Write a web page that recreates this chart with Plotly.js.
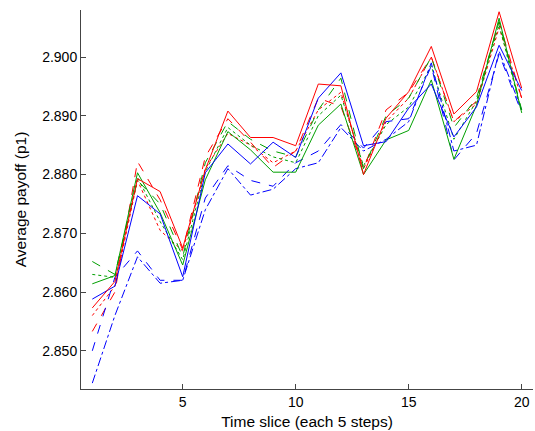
<!DOCTYPE html>
<html><head><meta charset="utf-8">
<script src="https://cdn.plot.ly/plotly-3.0.1.min.js"></script>
<style>html,body{margin:0;padding:0;background:#fff}#c{width:535px;height:431px}</style>
</head><body><div id="c"></div>
<script>
const timeSlices = [1,2,3,4,5,6,7,8,9,10,11,12,13,14,15,16,17,18,19,20];
const redSolid   = [2.8573,2.8618,2.8793,2.8771,2.8675,2.8808,2.8908,2.8863,2.8863,2.8849,2.8954,2.8951,2.8800,2.8896,2.8941,2.9018,2.8903,2.8941,2.9077,2.8947];
const redDashed  = [2.8533,2.8600,2.8822,2.8757,2.8672,2.8830,2.8895,2.8855,2.8812,2.8840,2.8930,2.8916,2.8810,2.8910,2.8940,2.9000,2.8890,2.8925,2.9060,2.8930];
const redDotted  = [2.8560,2.8610,2.8790,2.8705,2.8670,2.8810,2.8870,2.8850,2.8820,2.8840,2.8910,2.8940,2.8810,2.8890,2.8930,2.9000,2.8890,2.8920,2.9050,2.8930];
const greenSolid = [2.8614,2.8628,2.8803,2.8735,2.8646,2.8791,2.8873,2.8842,2.8804,2.8804,2.8884,2.8920,2.8800,2.8859,2.8875,2.8961,2.8826,2.8918,2.9066,2.8905];
const greenDashed= [2.8652,2.8630,2.8790,2.8750,2.8660,2.8820,2.8890,2.8860,2.8840,2.8830,2.8910,2.8964,2.8810,2.8900,2.8930,2.9000,2.8880,2.8930,2.9060,2.8910];
const greenDotted= [2.8630,2.8625,2.8795,2.8720,2.8655,2.8805,2.8880,2.8850,2.8830,2.8820,2.8900,2.8935,2.8815,2.8885,2.8915,2.8985,2.8860,2.8925,2.9055,2.8905];
const blueSolid  = [2.8588,2.8610,2.8764,2.8733,2.8626,2.8803,2.8852,2.8818,2.8855,2.8829,2.8930,2.8973,2.8849,2.8856,2.8913,2.8954,2.8864,2.8915,2.9020,2.8943];
const blueDashed = [2.8500,2.8625,2.8670,2.8620,2.8620,2.8760,2.8815,2.8790,2.8780,2.8820,2.8840,2.8885,2.8845,2.8890,2.8895,2.8985,2.8825,2.8870,2.9005,2.8905];
const blueDashDot= [2.8445,2.8560,2.8660,2.8615,2.8620,2.8740,2.8810,2.8765,2.8775,2.8810,2.8820,2.8880,2.8840,2.8860,2.8890,2.8990,2.8840,2.8850,2.9010,2.8910];

const series = [
  {y: redDotted,   c: '#ff0000', d: 'dot'},
  {y: greenDotted, c: '#00a000', d: 'dot'},
  {y: blueDashDot, c: '#0000ff', d: 'dashdot'},
  {y: redDashed,   c: '#ff0000', d: 'dash'},
  {y: greenDashed, c: '#00a000', d: 'dash'},
  {y: blueDashed,  c: '#0000ff', d: 'dash'},
  {y: greenSolid,  c: '#00a000', d: 'solid'},
  {y: blueSolid,   c: '#0000ff', d: 'solid'},
  {y: redSolid,    c: '#ff0000', d: 'solid'}
];
const traces = series.map(s => ({
  x: timeSlices, y: s.y, type: 'scatter', mode: 'lines',
  line: {color: s.c, width: 1, dash: s.d}, hoverinfo: 'skip'
}));
const font = {family: 'Liberation Sans, Arial, sans-serif', size: 14, color: '#000'};
const tfont = {family: 'Liberation Sans, Arial, sans-serif', size: 15.5, color: '#000'};
Plotly.newPlot('c', traces, {
  width: 535, height: 431,
  margin: {l: 81, r: 2, t: 10, b: 42},
  paper_bgcolor: '#fff', plot_bgcolor: '#fff',
  showlegend: false, font: font,
  xaxis: {range: [0.5, 20.5], tickvals: [5,10,15,20], ticks: 'inside', ticklen: 5,
    tickcolor: '#444', showline: true, linecolor: '#444', linewidth: 1, showgrid: false,
    zeroline: false, title: {text: 'Time slice (each 5 steps)', font: tfont, standoff: 7}},
  yaxis: {range: [2.8435, 2.908], tickvals: [2.85,2.86,2.87,2.88,2.89,2.90], tickformat: '.3f',
    ticks: 'inside', ticklen: 5, tickcolor: '#444', showline: true, linecolor: '#444', linewidth: 1,
    showgrid: false, zeroline: false, title: {text: 'Average payoff (p1)', font: tfont, standoff: 11}}
}, {staticPlot: true});
</script></body></html>
